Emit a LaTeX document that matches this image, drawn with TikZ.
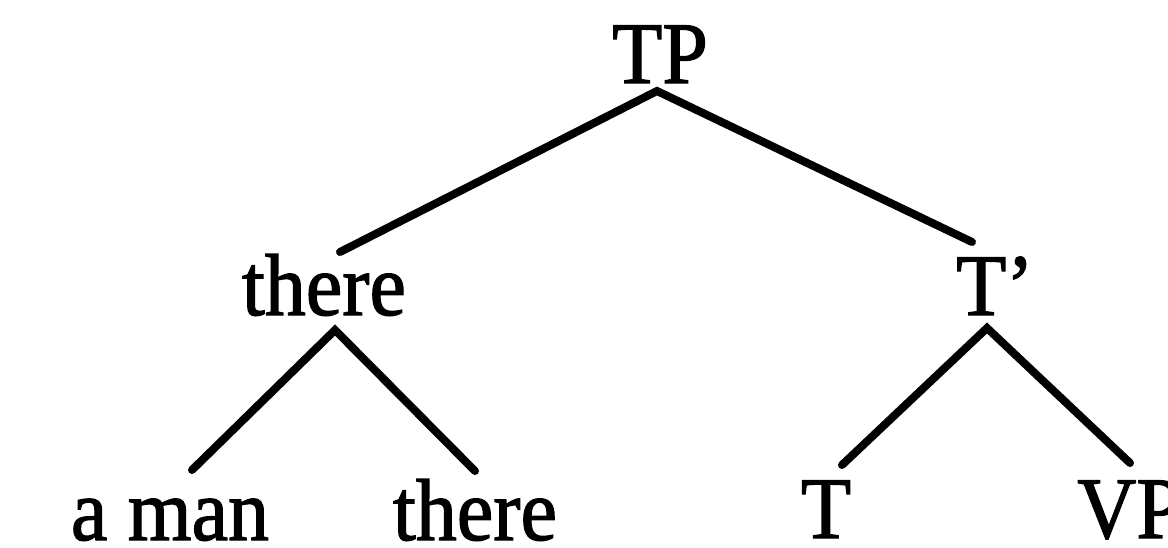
\documentclass[tikz,border=0pt]{standalone}
\usepackage{fontspec}
\usepackage{graphicx}
\newfontfamily\treefont[FakeBold=1.5]{Liberation Serif}
% slightly taller glyphs for the tree labels
\newcommand{\treelabel}[1]{\scalebox{1}[1.07]{#1}}
\begin{document}
\begin{tikzpicture}[x=1pt,y=-1pt,
  lab/.style={anchor=base,inner sep=0pt,font=\treefont\fontsize{82}{82}\selectfont},
  edge/.style={line width=8pt,line cap=round,line join=miter}]
\useasboundingbox (0,0) rectangle (1168,547);
\clip (0,0) rectangle (1168,547);
\fill[white] (0,0) rectangle (1168,547);

% labels
\node[lab] (TP) at (660,83) {\treelabel{TP}};
\node[lab] (there1) at (324,315) {\treelabel{there}};
\node[lab,anchor=base west] (Tbar) at (956,315) {\treelabel{T’}};
\node[lab] (aman) at (170,540) {\treelabel{a man}};
\node[lab] (there2) at (475,540) {\treelabel{there}};
\node[lab] (T) at (826,538) {\treelabel{T}};
\node[lab,anchor=base west] (VP) at (1077,538) {\treelabel{VP}};

% branch end points
\coordinate (tpA) at (657,91);
\coordinate (thL) at (340,252);
\coordinate (tbR) at (972,242);
\coordinate (thA) at (335,330);
\coordinate (amU) at (192,470);
\coordinate (t2U) at (475,471);
\coordinate (tbA) at (987,328);
\coordinate (tU) at (842,465);
\coordinate (vpU) at (1130,463);

% branches
\draw[edge] (thL) -- (tpA) -- (tbR);
\draw[edge] (amU) -- (thA) -- (t2U);
\draw[edge] (tU) -- (tbA) -- (vpU);
\end{tikzpicture}
\end{document}
